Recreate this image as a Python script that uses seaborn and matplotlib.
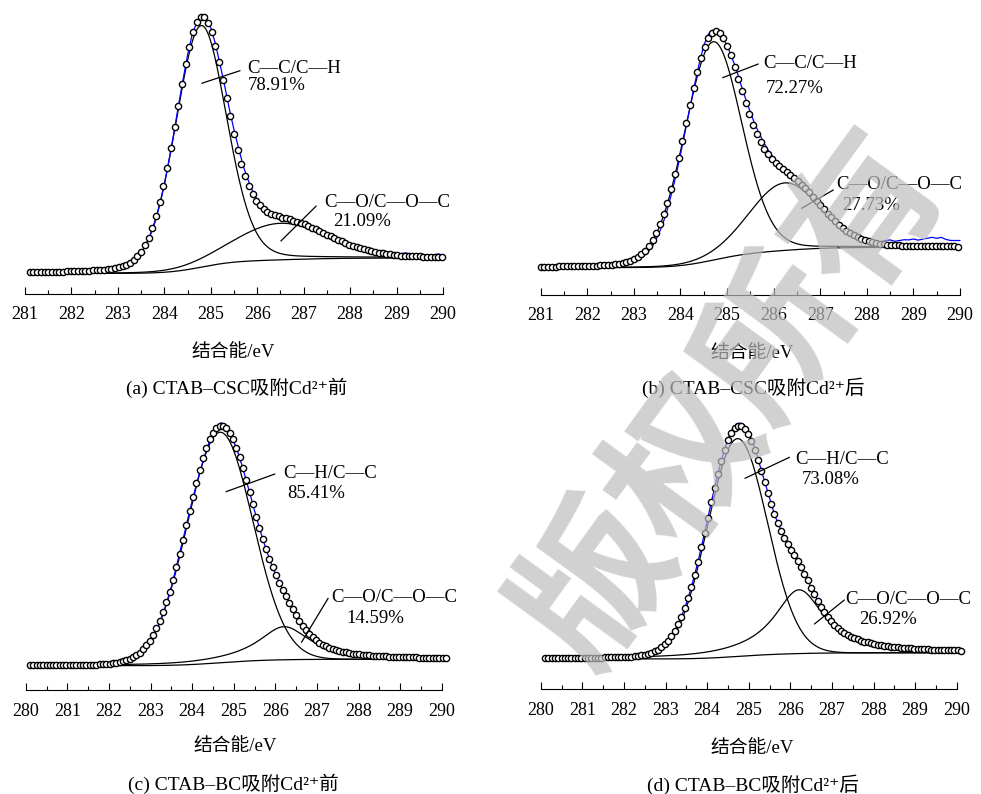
import numpy as np
import pandas as pd
import matplotlib
matplotlib.use("Agg")
import matplotlib.pyplot as plt
from matplotlib.ticker import MultipleLocator
import seaborn as sns

# ---- C 1s scan windows (eV) ----
scan_start = [281.1, 281.0, 280.1, 280.1]
scan_stop = [290.0, 290.0, 290.1, 290.1]
axis_start = [281, 281, 280, 280]
axis_stop = [290, 290, 290, 290]

# ---- fitted components: share (%), centre (eV), FWHM (eV), Lorentzian fraction ----
component_names = [["C—C/C—H", "C—O/C—O—C"],
                   ["C—C/C—H", "C—O/C—O—C"],
                   ["C—H/C—C", "C—O/C—O—C"],
                   ["C—H/C—C", "C—O/C—O—C"]]
area_pct = [[78.91, 21.09], [72.27, 27.73], [85.41, 14.59], [73.08, 26.92]]
peak_center = [[284.79, 286.50], [284.70, 286.24], [284.67, 286.21], [284.73, 286.21]]
peak_fwhm = [[1.30, 2.35], [1.45, 1.80], [1.86, 1.50], [1.70, 1.45]]
lorentz_frac = [[0.15, 0.10], [0.10, 0.10], [0.0, 1.0], [0.0, 1.0]]
total_area = [453.9, 488.4, 534.4, 539.3]      # a.u. * eV
bg_low = [0.0, 0.0, 0.0, 0.0]                  # background at low-BE end (a.u.)
bg_high = [15.5, 20.4, 6.5, 6.3]               # background at high-BE end (a.u.)

# ---- measured counts minus fitted envelope, every 0.1 eV from scan start ----
resid_a = [0, 0, 0, 0, 0, 0, 0, 0, 0,
           0, 0, 0, 0, 0, 0, 0, 0, 0, 0,
           0, 0, 0, 0, -1, -1, -2, -2, -3, -3,
           -3, -2, -2, -1, -1, 0, 1, 0, 0, 1,
           2, 2, 2, 3, 3, 4, 5, 4, 4, 3,
           2, 1, 1, 0, -1, -2, -2, -3, -2, -2,
           -2, -1, -1, 0, 0, 1, 0, 1, 1, 0,
           1, 2, 1, 2, 2, 1, 2, 3, 2, 2,
           1, 2, 3, 2, 2, 3, 2, 1, 2, 3,
           2]
resid_b = [0, 0, 0, 0, 0, 0, 0, 0, 0, 0,
           0, 0, 0, 0, 0, 0, 0, -1, -1, -2,
           -2, -3, -4, -5, -6, -6, -7, -7, -6, -6,
           -5, -4, -3, -1, 1, 4, 4, 2, 0, -1,
           0, 1, 3, 3, 4, 5, 5, 6, 5, 4,
           3, 1, 0, -1, -2, -3, -3, -2, -2, -1,
           -1, 0, 0, 0, 0, 0, 0, 0, 0, 1,
           1, 1, 2, 2, 4, 5, 4, 5, 6, 6,
           7, 6, 7, 8, 9, 8, 9, 7, 6, 6,
           6]
resid_c = [0, 0, 0, 0, 0, 0, 0, 0, 0,
           0, 0, 0, 0, 0, 0, 0, 0, 0, 0,
           0, 0, 0, 0, 0, 0, 0, 0, 0, 1,
           0, -1, -2, -2, -1, -1, 0, 1, 0, 0,
           -1, -2, -3, -3, -2, -1, 1, 3, 3, 1,
           0, 0, 0, 0, 0, 0, 0, 0, 0, 0,
           0, 0, 0, 0, 0, 0, 0, 0, 1, 1,
           1, 1, 2, 1, 1, 1, 2, 1, 1, 0,
           1, 1, 0, 1, 0, 0, 0, 0, 0, 0,
           0, 0, 0, 0, 0, 0, 0, 0, 0, 0,
           0, 0]
resid_d = [-1, -1, -1, -2, -1, -1, -2, -1, -1,
           -1, -2, -1, -1, -2, -1, -1, -1, -1, -1,
           -1, -1, 0, 0, 0, 0, 0, 0, 0, 0,
           0, 0, 0, 0, 0, 0, 0, 0, 0, 0,
           0, 0, 0, 0, 0, 1, 2, 3, 3, 4,
           3, 3, 2, 1, 1, 1, 0, 0, 1, 0,
           0, 0, 0, 0, 0, 0, 0, 1, 1, 2,
           1, 2, 2, 1, 2, 2, 3, 2, 2, 3,
           2, 1, 2, 2, 1, 2, 2, 1, 1, 2,
           1, 1, 2, 1, 1, 0, 0, 0, 0, 0,
           0, 0]
residuals = [resid_a, resid_b, resid_c, resid_d]

captions = ["(a) CTAB–CSC吸附Cd²⁺前", "(b) CTAB–CSC吸附Cd²⁺后",
            "(c) CTAB–BC吸附Cd²⁺前", "(d) CTAB–BC吸附Cd²⁺后"]
x_title = "结合能/eV"
watermark = "版权所有"

# ---------------------------------------------------------------------------
sns.set_theme(style="white", rc={"axes.edgecolor": "black", "xtick.color": "black",
                                  "text.color": "black", "axes.labelcolor": "black"})
plt.rcParams["font.family"] = ["Liberation Serif", "DejaVu Serif", "Noto Sans CJK SC"]

W, H = 981, 794
fig = plt.figure(figsize=(W / 100, H / 100), dpi=100)
fig.patch.set_facecolor("white")

# axes boxes in pixels: left, top, right, bottom (bottom = energy axis line)
boxes = [(25, 8, 443, 293.5), (540.7, 8, 960, 295),
         (25.7, 418, 441.7, 690), (540.7, 418, 956.7, 689.3)]
ylims = [(-20, 265.5), (-27.3, 259.7), (-24.3, 247.7), (-30.3, 241)]
title_y = [(352, 388), (353, 388), (747, 783.5), (748, 785)]
title_x = [(233, 236.5), (751.7, 753), (235, 233), (751.7, 752.5)]
# name / percentage text anchors and leader lines (data units)
name_xy = [[(285.78, 205.5), (287.445, 70.8)], [(285.78, 204.4), (287.34, 83.4)],
           [(286.19, 191.7), (287.34, 68.4)], [(286.11, 200.0), (287.33, 59.0)]]
pct_xy = [[(285.80, 188.5), (287.63, 52.5)], [(285.83, 179.4), (287.46, 62.7)],
          [(286.29, 172.4), (287.72, 47.4)], [(286.27, 179.7), (287.65, 39.7)]]
leaders = [[((284.805, 190.2), (285.63, 202.8)), ((286.51, 32.5), (287.27, 67.5))],
           [((284.906, 190.0), (285.67, 203.7)), ((286.60, 59.4), (287.28, 77.7))],
           [((284.815, 174.0), (285.99, 191.7)), ((286.63, 23.4), (287.27, 67.4))],
           [((284.91, 180.7), (285.98, 201.7)), ((286.58, 35.0), (287.30, 59.0))]]


def pseudo_voigt(e, c, w, eta):
    x = (e - c) / (w / 2.0)
    return eta / (1.0 + x ** 2) + (1.0 - eta) * np.exp(-np.log(2.0) * x ** 2)


def unit_area(w, eta):
    return w * (eta * np.pi / 2.0 + (1.0 - eta) * np.sqrt(np.pi / (4.0 * np.log(2.0))))


for i in range(4):
    l, t, r, b = boxes[i]
    ax = fig.add_axes([l / W, 1 - b / H, (r - l) / W, (b - t) / H])
    ax.patch.set_alpha(0)

    fine = np.round(np.arange(scan_start[i], scan_stop[i] + 1e-6, 0.01), 3)
    comps = []
    for k in range(2):
        area = total_area[i] * area_pct[i][k] / 100.0
        height = area / unit_area(peak_fwhm[i][k], lorentz_frac[i][k])
        comps.append(height * pseudo_voigt(fine, peak_center[i][k],
                                           peak_fwhm[i][k], lorentz_frac[i][k]))
    peaks = comps[0] + comps[1]
    cum = np.cumsum(peaks)
    bg = bg_low[i] + (bg_high[i] - bg_low[i]) * cum / cum[-1]
    env = bg + peaks

    df = pd.DataFrame({"BE": fine, "bg": bg, "c1": bg + comps[0],
                       "c2": bg + comps[1], "env": env})
    fit_pts = df.iloc[::8]
    raw = df.iloc[::10].copy()
    raw["raw"] = raw["env"].to_numpy() + np.asarray(residuals[i], float)

    line_kw = dict(ax=ax, estimator=None, sort=False, legend=False, clip_on=False)
    sns.lineplot(data=df, x="BE", y="bg", color="black", lw=0.9, zorder=2, **line_kw)
    sns.lineplot(data=df, x="BE", y="c1", color="black", lw=0.9, zorder=2, **line_kw)
    sns.lineplot(data=df, x="BE", y="c2", color="black", lw=0.9, zorder=2, **line_kw)
    sns.lineplot(data=raw, x="BE", y="raw", color="#0000ff", lw=0.9, zorder=3, **line_kw)
    sns.scatterplot(data=fit_pts, x="BE", y="env", ax=ax, s=20, marker="o",
                    facecolor="white", edgecolor="black", linewidth=1.0,
                    zorder=4, legend=False, clip_on=False)

    for k in range(2):
        (x0, y0), (x1, y1) = leaders[i][k]
        ax.annotate("", xy=(x0, y0), xytext=(x1, y1),
                    arrowprops=dict(arrowstyle="-", lw=0.9, color="black",
                                    shrinkA=0, shrinkB=0), zorder=6)
        ax.text(*name_xy[i][k], component_names[i][k], fontsize=13.5,
                ha="left", va="center", zorder=6)
        ax.text(*pct_xy[i][k], f"{area_pct[i][k]:.2f}%", fontsize=13.5,
                ha="left", va="center", zorder=6)

    ax.set_xlim(axis_start[i], axis_stop[i])
    ax.set_ylim(*ylims[i])
    ax.set_yticks([])
    ax.xaxis.set_major_locator(MultipleLocator(1))
    ax.xaxis.set_minor_locator(MultipleLocator(0.5))
    ax.tick_params(axis="x", which="major", direction="in", length=5, width=0.8,
                   labelsize=13, pad=9, bottom=True)
    ax.tick_params(axis="x", which="minor", direction="in", length=3, width=0.8,
                   bottom=True)
    for side in ("left", "right", "top"):
        ax.spines[side].set_visible(False)
    ax.spines["bottom"].set_linewidth(0.8)
    ax.set_ylabel("")

    ax.set_xlabel(x_title, fontsize=13.5)
    ax.xaxis.label.set_va("center")
    ax.xaxis.set_label_coords(title_x[i][0] / W, 1 - title_y[i][0] / H,
                              transform=fig.transFigure)
    fig.text(title_x[i][1] / W, 1 - title_y[i][1] / H, captions[i], fontsize=14,
             ha="center", va="center")

# translucent grey copyright stamp laid over the figure
fig.text(733 / W, 1 - 400 / H, watermark, rotation=54, fontsize=110,
         family=["Noto Sans CJK SC"], weight="bold", color="#bdbdbd", alpha=0.7,
         ha="center", va="center", zorder=10)

fig.savefig("out.png", dpi=100)
